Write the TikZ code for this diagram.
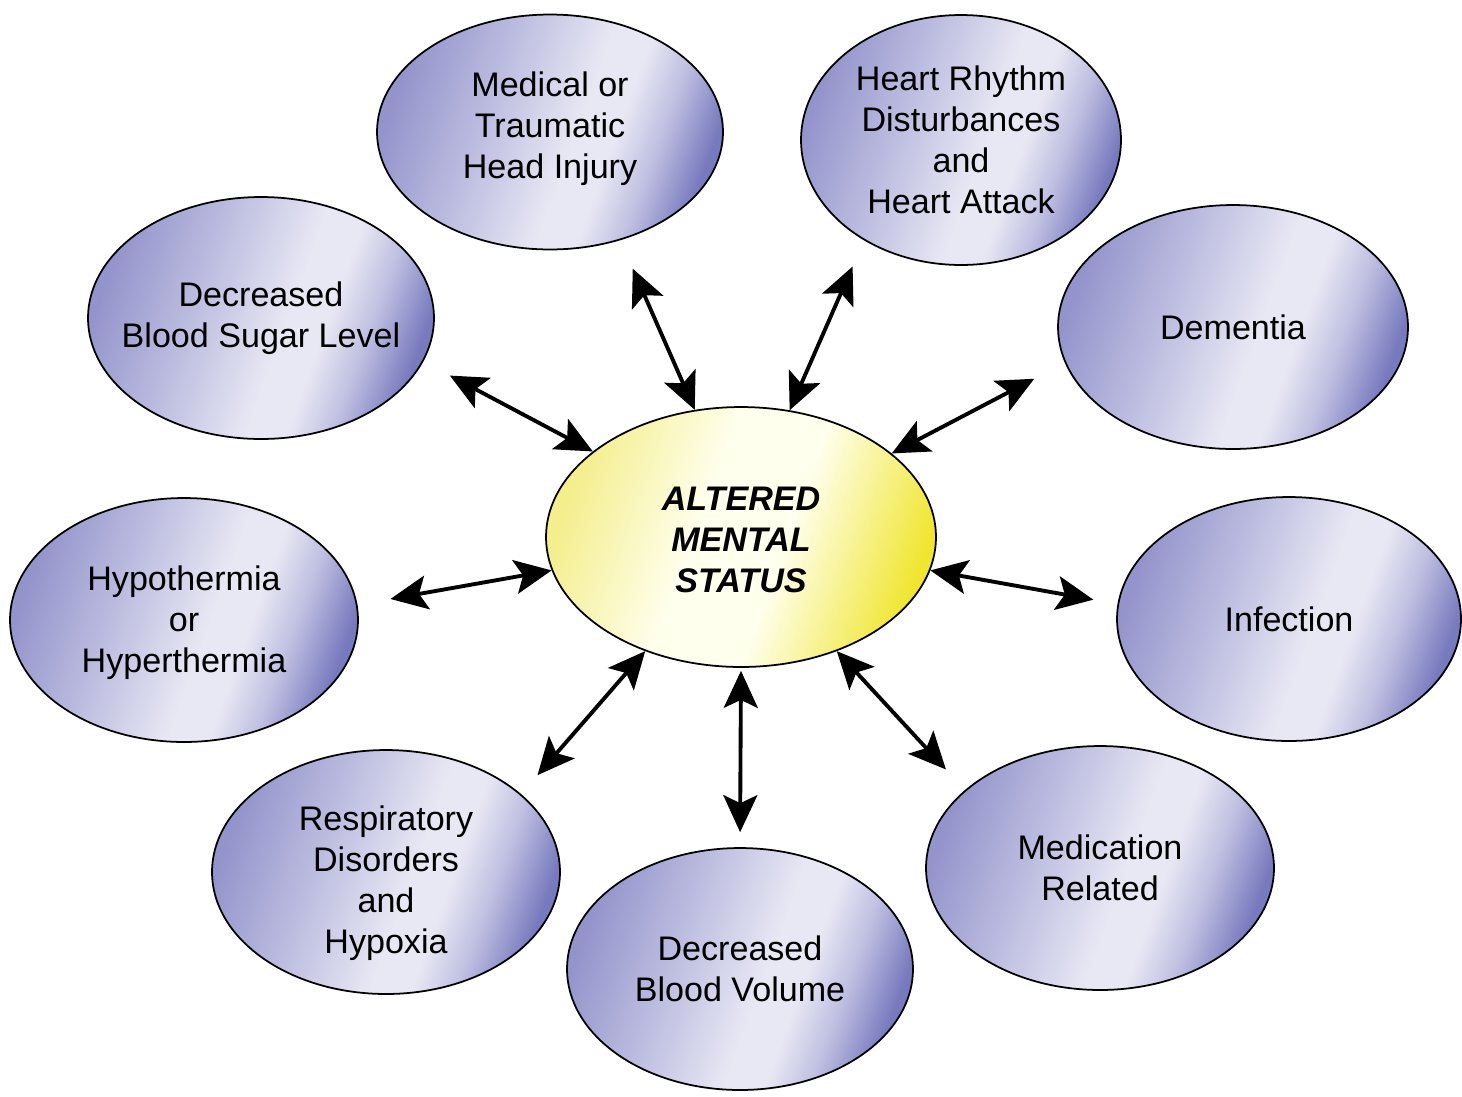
\documentclass[tikz,border=0pt]{standalone}
\usepackage{fontspec}
\setmainfont{Liberation Sans}
\usepackage{xcolor}
\usepackage{tikz}
\usetikzlibrary{arrows.meta,shapes.geometric}
\definecolor{satside}{RGB}{148,148,204}
\definecolor{satmid}{RGB}{190,190,225}
\definecolor{satlight}{RGB}{232,232,244}
\definecolor{satdark}{RGB}{120,122,190}
\definecolor{amsside}{RGB}{244,238,140}
\definecolor{amswhite}{RGB}{255,255,238}
\definecolor{amsdeep}{RGB}{240,230,50}
\pgfdeclarehorizontalshading{satshade}{100bp}{color(0bp)=(satside); color(25bp)=(satside);
  color(40bp)=(satmid); color(54bp)=(satlight); color(60bp)=(satlight); color(67bp)=(satmid);
  color(75bp)=(satdark); color(100bp)=(satdark)}
\pgfdeclarehorizontalshading{amsshade}{100bp}{color(0bp)=(amsside); color(25bp)=(amsside);
  color(44bp)=(amswhite); color(56bp)=(amswhite); color(75bp)=(amsdeep); color(100bp)=(amsdeep)}

\begin{document}
\begin{tikzpicture}[x=0.02cm, y=-0.02cm,
  font=\fontsize{19.4}{23.3}\selectfont,
  bighead/.tip={Stealth[length=7.4mm, width=6.8mm, inset=1.6mm]},
  sat/.style={ellipse, draw, line width=1pt, inner sep=0pt, shade, shading=satshade, shading angle=-20,
    minimum width=6.92cm, minimum height=4.88cm},
  ams/.style={ellipse, draw, line width=1pt, inner sep=0pt, shade, shading=amsshade, shading angle=-20,
    minimum width=7.8cm, minimum height=5.2cm},
  txt/.style={align=center},
  bold/.style={txt, font=\fontsize{19.4}{23.3}\selectfont\bfseries\itshape},
  link/.style={bighead-bighead, line width=2.2pt}]
\useasboundingbox (0,0) rectangle (1462,1096);
\node[ams, label={[bold, yshift=-0.06cm]center:ALTERED\\MENTAL\\STATUS}] (status) at (741,537) {};
\node[sat, minimum height=4.7cm, label={[txt, yshift=0.06cm]center:Medical or\\Traumatic\\Head Injury}] (head) at (550,132) {};
\node[sat, minimum width=6.4cm, minimum height=5cm, label={[txt]center:Heart Rhythm\\Disturbances\\and\\Heart Attack}] (heart) at (961,140) {};
\node[sat, minimum width=7cm, label={[txt]center:Dementia}] (dementia) at (1233,327) {};
\node[sat, minimum height=4.84cm, label={[txt]center:Decreased\\Blood Sugar Level}] (sugar) at (261,318) {};
\node[sat, minimum width=6.96cm, label={[txt, yshift=-0.06cm]center:Hypothermia\\or\\Hyperthermia}] (thermia) at (184,620) {};
\node[sat, minimum width=6.88cm, label={[txt]center:Infection}] (infection) at (1289,619) {};
\node[sat, minimum width=6.96cm, label={[txt, yshift=-0.22cm]center:Respiratory\\Disorders\\and\\Hypoxia}] (resp) at (386,872) {};
\node[sat, minimum height=4.84cm, label={[txt]center:Decreased\\Blood Volume}] (volume) at (740,969) {};
\node[sat, minimum width=6.96cm, label={[txt]center:Medication\\Related}] (medic) at (1100,868) {};
% arrows, tip touches the centre ellipse
\draw[link, shorten <=0.62cm] (head.-57) -- (status.110);
\draw[link, shorten <=0.57cm] (heart.-134.8) -- (status.69);
\draw[link, shorten <=0.69cm] (dementia.192.7) -- (status.29.2);
\draw[link, shorten <=0.6cm] (sugar.-15.9) -- (status.150.1);
\draw[link, shorten <=0.67cm] (thermia.5) -- (status.190.3);
\draw[link, shorten <=0.49cm] (infection.175) -- (status.-10.4);
\draw[link, shorten <=0.5cm] (resp.30.9) -- (status.230.8);
\draw[link, shorten <=0.3cm, shorten >=0.06cm] (volume.90) -- (status.270);
\draw[link, shorten <=0.56cm] (medic.150.6) -- (status.-50.5);
\end{tikzpicture}
\end{document}
